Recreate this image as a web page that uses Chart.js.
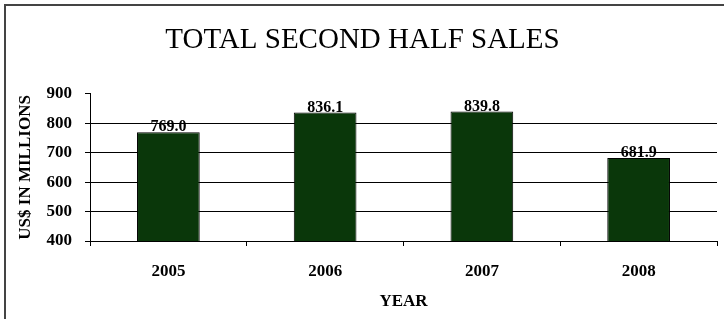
<!DOCTYPE html>
<html>
<head>
<meta charset="utf-8">
<script src="https://cdn.jsdelivr.net/npm/chart.js@4/dist/chart.umd.min.js"></script>
<style>
  html, body { margin: 0; padding: 0; background: #fff; }
  #wrap { position: relative; width: 724px; height: 319px; }
  #frame { position: absolute; left: 4px; top: 4px; width: 720px; height: 315px;
           border-left: 2px solid #444; border-top: 2px solid #444; pointer-events: none; }
</style>
</head>
<body>
<div id="wrap">
  <canvas id="salesChart" width="724" height="319"></canvas>
  <div id="frame"></div>
</div>
<script>
// values
var years = ["2005", "2006", "2007", "2008"];
var sales = [769.0, 836.1, 839.8, 681.9];
var yTicks = [400, 500, 600, 700, 800, 900];

var serif = "'Liberation Serif', 'Times New Roman', serif";

// draws the value above each bar (no datalabels plugin here)
var barValues = {
  id: 'barValues',
  afterDatasetsDraw: function(chart) {
    var c = chart.ctx;
    var meta = chart.getDatasetMeta(0);
    c.save();
    c.font = "bold 16px " + serif;
    c.fillStyle = '#000';
    c.textAlign = 'center';
    c.textBaseline = 'alphabetic';
    meta.data.forEach(function(bar, i) {
      c.fillText(sales[i].toFixed(1), bar.x, bar.y - 1);
    });
    c.restore();
  }
};

var ctx = document.getElementById('salesChart').getContext('2d');
var salesChart = new Chart(ctx, {
  type: 'bar',
  data: {
    labels: years,
    datasets: [{
      label: 'Sales',
      data: sales,
      backgroundColor: '#0a370a',
      borderColor: '#000',
      borderWidth: 1,
      barPercentage: 0.4,
      categoryPercentage: 1.0
    }]
  },
  options: {
    responsive: false,
    animation: false,
    layout: { padding: { top: 0, right: 7, bottom: 0, left: 8 } },
    plugins: {
      legend: { display: false },
      tooltip: { enabled: false },
      title: {
        display: true,
        text: 'TOTAL SECOND HALF SALES',
        color: '#000',
        font: { family: serif, size: 29, weight: 'normal' },
        padding: { top: 23, bottom: 36 }
      }
    },
    scales: {
      x: {
        offset: true,
        grid: { drawOnChartArea: false, offset: true, color: '#000', tickLength: 5 },
        border: { color: '#000', width: 1 },
        ticks: { color: '#000', padding: 15, font: { family: serif, size: 17, weight: 'bold' } },
        title: {
          display: true, text: 'YEAR', color: '#000',
          font: { family: serif, size: 17, weight: 'bold' },
          padding: { top: 10, bottom: 7 }
        },
        afterFit: function(scale) { scale.height = 78; }
      },
      y: {
        min: 400,
        max: 900,
        afterBuildTicks: function(scale) {
          scale.ticks = yTicks.map(function(v) { return { value: v }; });
        },
        grid: {
          color: function(c) { return c.tick && c.tick.value === 900 ? 'rgba(0,0,0,0)' : '#000'; },
          tickColor: '#000',
          tickLength: 5
        },
        border: { color: '#000', width: 1 },
        ticks: { color: '#000', padding: 13, font: { family: serif, size: 17, weight: 'bold' } },
        title: {
          display: true, text: 'US$ IN MILLIONS', color: '#000',
          font: { family: serif, size: 17, weight: 'bold' },
          padding: { top: 7, bottom: 0 }
        },
        afterFit: function(scale) { scale.width = 82; }
      }
    }
  },
  plugins: [barValues]
});
</script>
</body>
</html>
